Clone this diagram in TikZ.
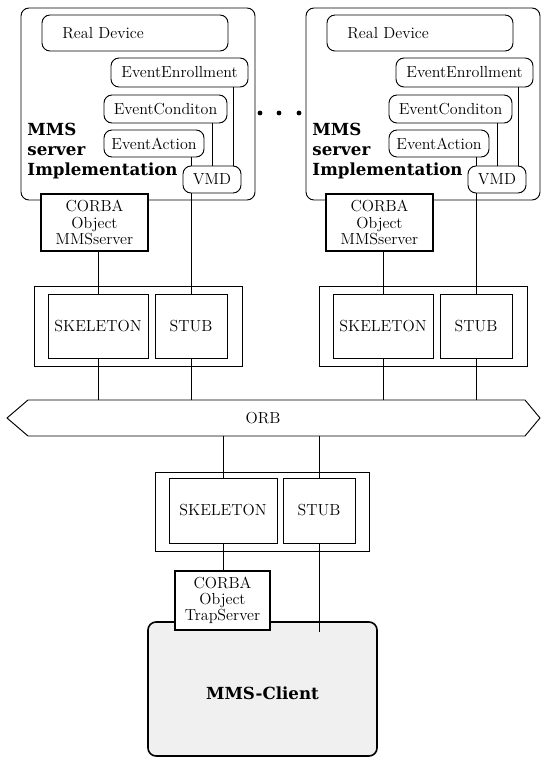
\documentclass[tikz,border=0pt]{standalone}
\usepackage{fontspec}
\newfontfamily\heavyfont{DejaVu Serif}
\usetikzlibrary{fit}

\begin{document}
\begin{tikzpicture}
[
	x=0.75pt,
	y=-0.75pt,
	line width=0.7pt,
	every node/.style={font=\fontsize{12}{13}\selectfont},
	rbox/.style={draw,rounded corners=6pt,inner sep=0pt,fill=white},
	sbox/.style={draw,inner sep=0pt,fill=white},
	corba/.style={draw,line width=2pt,inner sep=0pt,fill=white},
	corbatext/.style={align=center,font=\fontsize{12}{12.2}\selectfont},
	heavy/.style={inner sep=0pt,align=left,font=\fontsize{12.5}{15}\selectfont\heavyfont\bfseries}
]

	\useasboundingbox (0,0) rectangle (542,759);

	% the two servers
	\foreach \side/\dx in {l/0,r/285} {
		\node[rbox,fit={(\dx+21,8) (\dx+255,200)}] (\side-srv) {};
		\node[rbox,fit={(\dx+42,15) (\dx+228,51)},label={[anchor=west,xshift=12pt]west:Real Device}] (\side-dev) {};
		\node[rbox,fit={(\dx+111,58) (\dx+248,87)},label=center:EventEnrollment] (\side-ee) {};
		\node[rbox,fit={(\dx+104,95) (\dx+227,123)},label=center:EventConditon] (\side-ec) {};
		\node[rbox,fit={(\dx+104,130) (\dx+204,157)},label=center:EventAction] (\side-ea) {};
		\node[rbox,fit={(\dx+183,166) (\dx+241,193)},label=center:VMD] (\side-vmd) {};
		\node[heavy,anchor=north west] at (\dx+27,123) (\side-impl) {MMS\\server\\Implementation};
		\node[corba,fit={(\dx+41,194) (\dx+148,251)},label={[corbatext]center:CORBA\\Object\\MMSserver}] (\side-corba) {};

		% skeleton / stub
		\node[sbox,fit={(\dx+34,286) (\dx+242,366)}] (\side-idl) {};
		\node[sbox,fit={(\dx+48,294) (\dx+148,358)},label=center:SKELETON] (\side-skel) {};
		\node[sbox,fit={(\dx+155,294) (\dx+227,358)},label=center:STUB] (\side-stub) {};

		% links
		\draw ([xshift=-11pt]\side-ee.south east) -- ([xshift=-11pt]\side-ee.south east |- \side-vmd.north);
		\draw ([xshift=-11pt]\side-ec.south east) -- ([xshift=-11pt]\side-ec.south east |- \side-vmd.north);
		\draw (\side-ea.south -| \side-stub.north) -- (\side-vmd.north -| \side-stub.north);
		\draw (\side-vmd.south -| \side-stub.north) -- (\side-stub.north);
		\draw (\side-corba.south -| \side-skel.north) -- (\side-skel.north);
	}

	% dots between servers
	\foreach \x in {260,279,299} {
		\fill (\x,113) circle (1.8pt);
	}

	% ORB
	\draw (28,400) -- (525,400) -- (540,418) -- (525,436) -- (28,436) -- (7,418) -- cycle;
	\node at (263,418) (orb) {ORB};
	\coordinate (orb-top) at (263,400);
	\coordinate (orb-bot) at (263,436);

	\foreach \side in {l,r} {
		\draw (\side-skel.south) -- (\side-skel.south |- orb-top);
		\draw (\side-stub.south) -- (\side-stub.south |- orb-top);
	}

	% client side
	\node[sbox,fit={(155,472) (369,551)}] (c-idl) {};
	\node[sbox,fit={(169,478) (277,543)},label=center:SKELETON] (c-skel) {};
	\node[sbox,fit={(283,478) (355,543)},label=center:STUB] (c-stub) {};

	\node[draw,rounded corners=6pt,line width=1.2pt,fill=gray!12,inner sep=0pt,fit={(148,622) (377,756)},
		label={[heavy,yshift=-3pt]center:MMS-Client}] (client) {};
	\node[corba,fit={(175,571) (270,630)},label={[corbatext]center:CORBA\\Object\\TrapServer}] (c-corba) {};

	\draw (c-skel.north) -- (c-skel.north |- orb-bot);
	\draw (c-stub.north) -- (c-stub.north |- orb-bot);
	\draw (c-skel.south) -- (c-skel.south |- c-corba.north);
	\draw (c-stub.south) -- ([yshift=-8pt]c-stub.south |- client.north);

\end{tikzpicture}
\end{document}
